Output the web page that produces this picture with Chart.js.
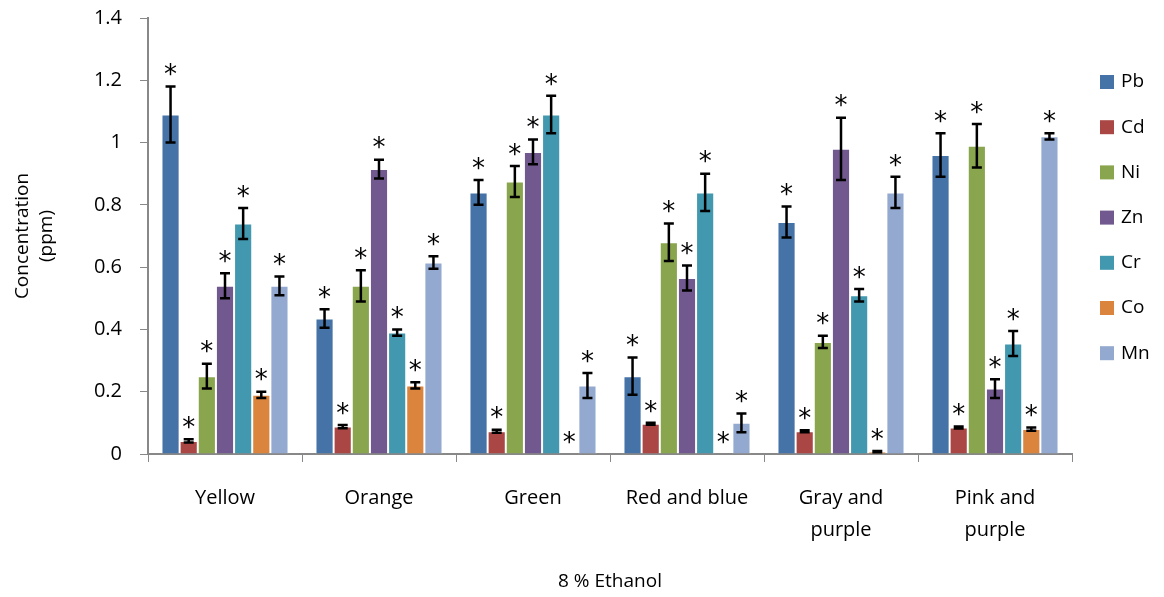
<!DOCTYPE html>
<html>
<head>
<meta charset="utf-8">
<script src="https://cdn.jsdelivr.net/npm/chart.js@4"></script>
<style>
  html, body { margin: 0; padding: 0; background: #fff; }
  #wrap { width: 1164px; height: 597px; }
</style>
</head>
<body>
<div id="wrap"><canvas id="chart" width="1164" height="597"></canvas></div>
<script>
// samples
const categories = ['Yellow', 'Orange', 'Green', 'Red and blue', ['Gray and', 'purple'], ['Pink and', 'purple']];
const metals = ['Pb', 'Cd', 'Ni', 'Zn', 'Cr', 'Co', 'Mn'];
const colors = ['#4572A7', '#AA4643', '#89A54E', '#71588F', '#4198AF', '#DB843D', '#93A9CF'];

// mean concentration (ppm) per metal, one entry per sample
const pb = [1.09, 0.435, 0.84, 0.25, 0.745, 0.96];
const cd = [0.042, 0.088, 0.073, 0.097, 0.073, 0.085];
const ni = [0.25, 0.54, 0.875, 0.68, 0.36, 0.99];
const zn = [0.54, 0.915, 0.97, 0.565, 0.98, 0.21];
const cr = [0.74, 0.39, 1.09, 0.84, 0.51, 0.355];
const co = [0.19, 0.22, 0, 0, 0.008, 0.08];
const mn = [0.54, 0.615, 0.22, 0.1, 0.84, 1.02];

// error (+/-)
const pbErr = [0.09, 0.03, 0.04, 0.06, 0.05, 0.07];
const cdErr = [0.005, 0.005, 0.005, 0.003, 0.003, 0.003];
const niErr = [0.04, 0.05, 0.05, 0.06, 0.02, 0.07];
const znErr = [0.04, 0.03, 0.04, 0.04, 0.1, 0.03];
const crErr = [0.05, 0.01, 0.06, 0.06, 0.02, 0.04];
const coErr = [0.01, 0.01, 0, 0, 0.002, 0.005];
const mnErr = [0.03, 0.02, 0.04, 0.03, 0.05, 0.01];

const yTicks = [0, 0.2, 0.4, 0.6, 0.8, 1, 1.2, 1.4];

const values = [pb, cd, ni, zn, cr, co, mn];
const errors = [pbErr, cdErr, niErr, znErr, crErr, coErr, mnErr];

const FONT = 'Open Sans';

const errorBars = {
    id: 'errorBars',
    afterDatasetsDraw(chart) {
        const ctx = chart.ctx;
        const y = chart.scales.y;
        ctx.save();
        chart.data.datasets.forEach((ds, i) => {
            const meta = chart.getDatasetMeta(i);
            meta.data.forEach((bar, j) => {
                const v = ds.data[j];
                const e = ds.errors[j];
                const top = y.getPixelForValue(v + e);
                const bot = y.getPixelForValue(v - e);
                const x = bar.x;
                if (e > 0) {
                    ctx.strokeStyle = '#000';
                    ctx.lineWidth = 2.5;
                    ctx.beginPath();
                    ctx.moveTo(x, top); ctx.lineTo(x, bot);
                    ctx.moveTo(x - 5, top); ctx.lineTo(x + 5, top);
                    ctx.moveTo(x - 5, bot); ctx.lineTo(x + 5, bot);
                    ctx.stroke();
                }
                ctx.fillStyle = '#000';
                ctx.font = '26px "DejaVu Sans"';
                ctx.textAlign = 'center';
                ctx.textBaseline = 'middle';
                ctx.fillText('*', x, top - 10);
            });
        });
        ctx.restore();
    }
};

const sideLegend = {
    id: 'sideLegend',
    afterDraw(chart) {
        const ctx = chart.ctx;
        ctx.save();
        ctx.font = '19px "' + FONT + '"';
        ctx.textBaseline = 'middle';
        ctx.textAlign = 'left';
        chart.data.datasets.forEach((ds, i) => {
            const cy = 82 + i * 45.2;
            ctx.fillStyle = ds.backgroundColor;
            ctx.fillRect(1100, cy - 7, 14, 14);
            ctx.fillStyle = '#000';
            ctx.fillText(ds.label, 1121, cy);
        });
        ctx.restore();
    }
};

new Chart(document.getElementById('chart').getContext('2d'), {
    type: 'bar',
    data: {
        labels: categories,
        datasets: metals.map((m, i) => ({
            label: m,
            data: values[i],
            errors: errors[i],
            backgroundColor: colors[i],
            borderColor: 'rgba(255,255,255,0.6)',
            borderWidth: 1,
            barPercentage: 1,
            categoryPercentage: 0.825
        }))
    },
    options: {
        responsive: false,
        animation: false,
        layout: { padding: { top: 18, right: 92, left: 6, bottom: 0 } },
        plugins: { legend: { display: false }, tooltip: { enabled: false } },
        scales: {
            x: {
                grid: { display: true, drawOnChartArea: false, drawTicks: true, tickLength: 8, color: '#888', offset: true },
                border: { color: '#888', width: 2 },
                ticks: { color: '#000', font: { family: FONT, size: 20, lineHeight: 1.6 }, padding: 20, maxRotation: 0 },
                title: { display: true, text: '8 % Ethanol', color: '#000', font: { family: FONT, size: 19 }, padding: { top: 20 } },
                afterFit(s) { s.height = 143; }
            },
            y: {
                min: 0, max: 1.4,
                afterBuildTicks(s) { s.ticks = yTicks.map(v => ({ value: v })); },
                grid: { display: true, drawOnChartArea: false, tickLength: 8, color: '#888' },
                border: { color: '#888', width: 2 },
                ticks: { color: '#000', font: { family: FONT, size: 20 }, padding: 18, callback: v => String(v) },
                title: { display: true, text: ['Concentration', '(ppm)'], color: '#000', font: { family: FONT, size: 19, lineHeight: 1.3 } },
                afterFit(s) { s.width = 142; s.paddingTop = 12; s.paddingBottom = 12; }
            }
        }
    },
    plugins: [errorBars, sideLegend]
});
</script>
</body>
</html>
